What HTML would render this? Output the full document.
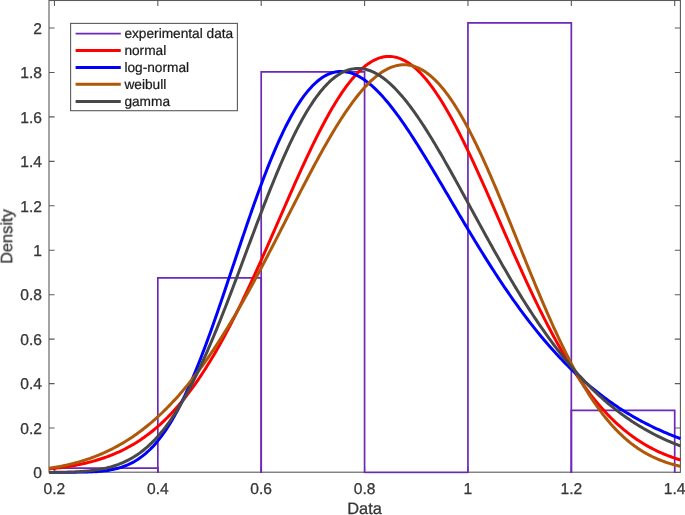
<!DOCTYPE html>
<html><head><meta charset="utf-8"><title>Density fit</title>
<style>
html,body{margin:0;padding:0;background:#fff;}
body{width:685px;height:515px;overflow:hidden;}
svg{display:block;}
text{font-family:"Liberation Sans",sans-serif;fill:#363636;stroke:#363636;stroke-width:0.3px;text-rendering:geometricPrecision;}
.tk{font-size:15.6px;}
.lb{font-size:16.4px;}
.lg{font-size:13.7px;fill:#1a1a1a;stroke:#1a1a1a;stroke-width:0.22px;}
</style></head><body>
<svg width="685" height="515" viewBox="0 0 685 515">
<rect x="0" y="0" width="685" height="515" fill="#ffffff"/>
<filter id="soft" x="-5%" y="-5%" width="110%" height="110%" color-interpolation-filters="sRGB"><feGaussianBlur stdDeviation="0.42"/></filter>
<g filter="url(#soft)">
<rect x="-20" y="-20" width="725" height="555" fill="#ffffff"/>
<defs><clipPath id="c"><rect x="48.4" y="0.5" width="632.6" height="473.2"/></clipPath></defs>
<g fill="none" stroke="#5a5a5a" stroke-width="1.1">
<rect x="49.0" y="0.5" width="631.4" height="471.7"/>
<path d="M54.45,472.2 V466.6 M54.45,0.5 V6.1"/>
<path d="M157.82,472.2 V466.6 M157.82,0.5 V6.1"/>
<path d="M261.20,472.2 V466.6 M261.20,0.5 V6.1"/>
<path d="M364.58,472.2 V466.6 M364.58,0.5 V6.1"/>
<path d="M467.95,472.2 V466.6 M467.95,0.5 V6.1"/>
<path d="M571.33,472.2 V466.6 M571.33,0.5 V6.1"/>
<path d="M674.70,472.2 V466.6 M674.70,0.5 V6.1"/>
<path d="M49.0,472.50 H54.6 M680.4,472.50 H674.8"/>
<path d="M49.0,428.05 H54.6 M680.4,428.05 H674.8"/>
<path d="M49.0,383.60 H54.6 M680.4,383.60 H674.8"/>
<path d="M49.0,339.15 H54.6 M680.4,339.15 H674.8"/>
<path d="M49.0,294.70 H54.6 M680.4,294.70 H674.8"/>
<path d="M49.0,250.25 H54.6 M680.4,250.25 H674.8"/>
<path d="M49.0,205.80 H54.6 M680.4,205.80 H674.8"/>
<path d="M49.0,161.35 H54.6 M680.4,161.35 H674.8"/>
<path d="M49.0,116.90 H54.6 M680.4,116.90 H674.8"/>
<path d="M49.0,72.45 H54.6 M680.4,72.45 H674.8"/>
<path d="M49.0,28.00 H54.6 M680.4,28.00 H674.8"/>
</g>
<g clip-path="url(#c)" fill="none" stroke="#6c28b6" stroke-width="1.7">
<path d="M54.45,473.00 L54.45,468.14 L157.82,468.14 L157.82,473.00"/>
<path d="M157.82,473.00 L157.82,277.81 L261.20,277.81 L261.20,473.00"/>
<path d="M261.20,473.00 L261.20,71.89 L364.58,71.89 L364.58,473.00"/>
<path d="M364.58,473.00 L364.58,472.50 L467.95,472.50 L467.95,473.00"/>
<path d="M467.95,473.00 L467.95,22.89 L571.33,22.89 L571.33,473.00"/>
<path d="M571.33,473.00 L571.33,410.40 L674.70,410.40 L674.70,473.00"/>
</g>
<g clip-path="url(#c)" fill="none" stroke-width="3" stroke-linejoin="round">
<path stroke="#ff0000" d="M49.00,468.95 L50.58,468.79 L52.16,468.62 L53.75,468.45 L55.33,468.27 L56.91,468.08 L58.49,467.88 L60.08,467.68 L61.66,467.47 L63.24,467.25 L64.82,467.02 L66.41,466.79 L67.99,466.54 L69.57,466.29 L71.15,466.02 L72.74,465.75 L74.32,465.47 L75.90,465.17 L77.48,464.87 L79.07,464.55 L80.65,464.23 L82.23,463.89 L83.81,463.54 L85.40,463.17 L86.98,462.80 L88.56,462.41 L90.14,462.01 L91.73,461.59 L93.31,461.16 L94.89,460.72 L96.47,460.26 L98.06,459.78 L99.64,459.29 L101.22,458.79 L102.80,458.26 L104.39,457.72 L105.97,457.17 L107.55,456.59 L109.13,456.00 L110.72,455.39 L112.30,454.76 L113.88,454.10 L115.46,453.43 L117.05,452.74 L118.63,452.03 L120.21,451.30 L121.79,450.55 L123.38,449.77 L124.96,448.97 L126.54,448.15 L128.12,447.30 L129.71,446.44 L131.29,445.54 L132.87,444.62 L134.45,443.68 L136.04,442.71 L137.62,441.71 L139.20,440.69 L140.78,439.64 L142.36,438.56 L143.95,437.46 L145.53,436.32 L147.11,435.16 L148.69,433.97 L150.28,432.74 L151.86,431.49 L153.44,430.21 L155.02,428.89 L156.61,427.55 L158.19,426.17 L159.77,424.76 L161.35,423.31 L162.94,421.84 L164.52,420.32 L166.10,418.78 L167.68,417.20 L169.27,415.59 L170.85,413.94 L172.43,412.26 L174.01,410.54 L175.60,408.78 L177.18,406.99 L178.76,405.16 L180.34,403.30 L181.93,401.39 L183.51,399.46 L185.09,397.48 L186.67,395.47 L188.26,393.41 L189.84,391.32 L191.42,389.20 L193.00,387.03 L194.59,384.83 L196.17,382.59 L197.75,380.31 L199.33,377.99 L200.92,375.63 L202.50,373.23 L204.08,370.80 L205.66,368.33 L207.25,365.82 L208.83,363.27 L210.41,360.69 L211.99,358.06 L213.58,355.40 L215.16,352.71 L216.74,349.97 L218.32,347.20 L219.91,344.39 L221.49,341.55 L223.07,338.67 L224.65,335.76 L226.24,332.81 L227.82,329.83 L229.40,326.81 L230.98,323.77 L232.56,320.68 L234.15,317.57 L235.73,314.43 L237.31,311.25 L238.89,308.05 L240.48,304.81 L242.06,301.55 L243.64,298.26 L245.22,294.95 L246.81,291.60 L248.39,288.24 L249.97,284.85 L251.55,281.43 L253.14,278.00 L254.72,274.54 L256.30,271.07 L257.88,267.57 L259.47,264.06 L261.05,260.53 L262.63,256.99 L264.21,253.43 L265.80,249.86 L267.38,246.27 L268.96,242.68 L270.54,239.08 L272.13,235.47 L273.71,231.85 L275.29,228.23 L276.87,224.61 L278.46,220.99 L280.04,217.36 L281.62,213.74 L283.20,210.11 L284.79,206.50 L286.37,202.89 L287.95,199.28 L289.53,195.69 L291.12,192.10 L292.70,188.53 L294.28,184.97 L295.86,181.43 L297.45,177.90 L299.03,174.39 L300.61,170.91 L302.19,167.44 L303.78,164.00 L305.36,160.59 L306.94,157.20 L308.52,153.84 L310.11,150.51 L311.69,147.21 L313.27,143.95 L314.85,140.73 L316.44,137.54 L318.02,134.39 L319.60,131.28 L321.18,128.21 L322.76,125.19 L324.35,122.22 L325.93,119.29 L327.51,116.41 L329.09,113.58 L330.68,110.80 L332.26,108.08 L333.84,105.41 L335.42,102.80 L337.01,100.25 L338.59,97.76 L340.17,95.32 L341.75,92.95 L343.34,90.65 L344.92,88.41 L346.50,86.24 L348.08,84.13 L349.67,82.09 L351.25,80.13 L352.83,78.23 L354.41,76.41 L356.00,74.66 L357.58,72.99 L359.16,71.39 L360.74,69.87 L362.33,68.43 L363.91,67.06 L365.49,65.78 L367.07,64.57 L368.66,63.45 L370.24,62.40 L371.82,61.44 L373.40,60.56 L374.99,59.77 L376.57,59.06 L378.15,58.43 L379.73,57.89 L381.32,57.43 L382.90,57.06 L384.48,56.77 L386.06,56.57 L387.65,56.46 L389.23,56.43 L390.81,56.49 L392.39,56.63 L393.98,56.86 L395.56,57.17 L397.14,57.57 L398.72,58.06 L400.31,58.62 L401.89,59.28 L403.47,60.02 L405.05,60.84 L406.64,61.74 L408.22,62.73 L409.80,63.80 L411.38,64.95 L412.96,66.18 L414.55,67.49 L416.13,68.89 L417.71,70.35 L419.29,71.90 L420.88,73.52 L422.46,75.22 L424.04,76.99 L425.62,78.84 L427.21,80.76 L428.79,82.75 L430.37,84.80 L431.95,86.93 L433.54,89.13 L435.12,91.39 L436.70,93.72 L438.28,96.10 L439.87,98.56 L441.45,101.07 L443.03,103.64 L444.61,106.27 L446.20,108.96 L447.78,111.70 L449.36,114.49 L450.94,117.34 L452.53,120.23 L454.11,123.18 L455.69,126.17 L457.27,129.20 L458.86,132.28 L460.44,135.41 L462.02,138.57 L463.60,141.77 L465.19,145.01 L466.77,148.28 L468.35,151.59 L469.93,154.92 L471.52,158.29 L473.10,161.69 L474.68,165.11 L476.26,168.56 L477.85,172.03 L479.43,175.53 L481.01,179.04 L482.59,182.57 L484.18,186.12 L485.76,189.69 L487.34,193.26 L488.92,196.85 L490.51,200.45 L492.09,204.06 L493.67,207.67 L495.25,211.29 L496.84,214.91 L498.42,218.54 L500.00,222.16 L501.58,225.79 L503.16,229.41 L504.75,233.03 L506.33,236.64 L507.91,240.25 L509.49,243.85 L511.08,247.44 L512.66,251.02 L514.24,254.58 L515.82,258.14 L517.41,261.68 L518.99,265.20 L520.57,268.71 L522.15,272.20 L523.74,275.67 L525.32,279.12 L526.90,282.54 L528.48,285.95 L530.07,289.33 L531.65,292.69 L533.23,296.02 L534.81,299.33 L536.40,302.61 L537.98,305.87 L539.56,309.09 L541.14,312.28 L542.73,315.45 L544.31,318.58 L545.89,321.69 L547.47,324.76 L549.06,327.80 L550.64,330.80 L552.22,333.77 L553.80,336.71 L555.39,339.61 L556.97,342.48 L558.55,345.31 L560.13,348.10 L561.72,350.86 L563.30,353.59 L564.88,356.27 L566.46,358.92 L568.05,361.53 L569.63,364.10 L571.21,366.64 L572.79,369.14 L574.38,371.59 L575.96,374.02 L577.54,376.40 L579.12,378.74 L580.71,381.05 L582.29,383.32 L583.87,385.55 L585.45,387.74 L587.04,389.89 L588.62,392.01 L590.20,394.08 L591.78,396.12 L593.36,398.12 L594.95,400.09 L596.53,402.02 L598.11,403.91 L599.69,405.76 L601.28,407.57 L602.86,409.35 L604.44,411.10 L606.02,412.81 L607.61,414.48 L609.19,416.11 L610.77,417.72 L612.35,419.28 L613.94,420.82 L615.52,422.32 L617.10,423.78 L618.68,425.22 L620.27,426.62 L621.85,427.99 L623.43,429.32 L625.01,430.63 L626.60,431.90 L628.18,433.14 L629.76,434.36 L631.34,435.54 L632.93,436.69 L634.51,437.82 L636.09,438.92 L637.67,439.98 L639.26,441.03 L640.84,442.04 L642.42,443.03 L644.00,443.99 L645.59,444.92 L647.17,445.83 L648.75,446.72 L650.33,447.58 L651.92,448.42 L653.50,449.23 L655.08,450.02 L656.66,450.79 L658.25,451.54 L659.83,452.27 L661.41,452.97 L662.99,453.65 L664.58,454.32 L666.16,454.96 L667.74,455.59 L669.32,456.19 L670.91,456.78 L672.49,457.35 L674.07,457.90 L675.65,458.43 L677.24,458.95 L678.82,459.45 L680.40,459.94"/>
<path stroke="#0000ff" d="M49.00,472.50 L50.58,472.50 L52.16,472.50 L53.75,472.49 L55.33,472.49 L56.91,472.49 L58.49,472.49 L60.08,472.49 L61.66,472.48 L63.24,472.48 L64.82,472.47 L66.41,472.47 L67.99,472.46 L69.57,472.45 L71.15,472.44 L72.74,472.42 L74.32,472.41 L75.90,472.39 L77.48,472.37 L79.07,472.34 L80.65,472.31 L82.23,472.28 L83.81,472.24 L85.40,472.19 L86.98,472.14 L88.56,472.08 L90.14,472.01 L91.73,471.93 L93.31,471.84 L94.89,471.75 L96.47,471.63 L98.06,471.51 L99.64,471.37 L101.22,471.22 L102.80,471.05 L104.39,470.86 L105.97,470.65 L107.55,470.42 L109.13,470.16 L110.72,469.88 L112.30,469.57 L113.88,469.24 L115.46,468.88 L117.05,468.48 L118.63,468.05 L120.21,467.58 L121.79,467.08 L123.38,466.54 L124.96,465.95 L126.54,465.32 L128.12,464.65 L129.71,463.92 L131.29,463.15 L132.87,462.32 L134.45,461.44 L136.04,460.50 L137.62,459.51 L139.20,458.45 L140.78,457.34 L142.36,456.15 L143.95,454.91 L145.53,453.59 L147.11,452.20 L148.69,450.75 L150.28,449.22 L151.86,447.61 L153.44,445.93 L155.02,444.17 L156.61,442.34 L158.19,440.42 L159.77,438.43 L161.35,436.35 L162.94,434.19 L164.52,431.94 L166.10,429.61 L167.68,427.20 L169.27,424.71 L170.85,422.12 L172.43,419.46 L174.01,416.71 L175.60,413.87 L177.18,410.95 L178.76,407.95 L180.34,404.86 L181.93,401.69 L183.51,398.44 L185.09,395.11 L186.67,391.70 L188.26,388.21 L189.84,384.65 L191.42,381.01 L193.00,377.29 L194.59,373.50 L196.17,369.65 L197.75,365.72 L199.33,361.74 L200.92,357.68 L202.50,353.57 L204.08,349.39 L205.66,345.16 L207.25,340.88 L208.83,336.54 L210.41,332.16 L211.99,327.73 L213.58,323.26 L215.16,318.75 L216.74,314.20 L218.32,309.62 L219.91,305.00 L221.49,300.36 L223.07,295.70 L224.65,291.02 L226.24,286.31 L227.82,281.60 L229.40,276.87 L230.98,272.13 L232.56,267.39 L234.15,262.65 L235.73,257.91 L237.31,253.17 L238.89,248.45 L240.48,243.73 L242.06,239.04 L243.64,234.36 L245.22,229.70 L246.81,225.06 L248.39,220.46 L249.97,215.88 L251.55,211.34 L253.14,206.83 L254.72,202.37 L256.30,197.95 L257.88,193.57 L259.47,189.24 L261.05,184.96 L262.63,180.73 L264.21,176.57 L265.80,172.45 L267.38,168.40 L268.96,164.42 L270.54,160.49 L272.13,156.64 L273.71,152.85 L275.29,149.14 L276.87,145.50 L278.46,141.93 L280.04,138.44 L281.62,135.03 L283.20,131.70 L284.79,128.45 L286.37,125.29 L287.95,122.20 L289.53,119.21 L291.12,116.30 L292.70,113.47 L294.28,110.74 L295.86,108.10 L297.45,105.54 L299.03,103.08 L300.61,100.70 L302.19,98.42 L303.78,96.24 L305.36,94.14 L306.94,92.14 L308.52,90.23 L310.11,88.42 L311.69,86.70 L313.27,85.07 L314.85,83.54 L316.44,82.10 L318.02,80.75 L319.60,79.50 L321.18,78.34 L322.76,77.27 L324.35,76.29 L325.93,75.41 L327.51,74.62 L329.09,73.91 L330.68,73.30 L332.26,72.78 L333.84,72.34 L335.42,71.99 L337.01,71.73 L338.59,71.56 L340.17,71.47 L341.75,71.46 L343.34,71.53 L344.92,71.69 L346.50,71.93 L348.08,72.25 L349.67,72.64 L351.25,73.12 L352.83,73.67 L354.41,74.29 L356.00,74.99 L357.58,75.76 L359.16,76.60 L360.74,77.51 L362.33,78.49 L363.91,79.54 L365.49,80.65 L367.07,81.83 L368.66,83.07 L370.24,84.37 L371.82,85.73 L373.40,87.15 L374.99,88.63 L376.57,90.16 L378.15,91.75 L379.73,93.39 L381.32,95.08 L382.90,96.83 L384.48,98.62 L386.06,100.46 L387.65,102.34 L389.23,104.27 L390.81,106.25 L392.39,108.26 L393.98,110.32 L395.56,112.41 L397.14,114.54 L398.72,116.71 L400.31,118.91 L401.89,121.15 L403.47,123.42 L405.05,125.72 L406.64,128.05 L408.22,130.40 L409.80,132.79 L411.38,135.20 L412.96,137.63 L414.55,140.09 L416.13,142.57 L417.71,145.07 L419.29,147.59 L420.88,150.13 L422.46,152.69 L424.04,155.26 L425.62,157.85 L427.21,160.45 L428.79,163.07 L430.37,165.70 L431.95,168.34 L433.54,170.98 L435.12,173.64 L436.70,176.31 L438.28,178.98 L439.87,181.65 L441.45,184.34 L443.03,187.02 L444.61,189.71 L446.20,192.41 L447.78,195.10 L449.36,197.80 L450.94,200.49 L452.53,203.19 L454.11,205.88 L455.69,208.57 L457.27,211.26 L458.86,213.94 L460.44,216.62 L462.02,219.29 L463.60,221.96 L465.19,224.62 L466.77,227.27 L468.35,229.92 L469.93,232.56 L471.52,235.19 L473.10,237.81 L474.68,240.42 L476.26,243.02 L477.85,245.61 L479.43,248.19 L481.01,250.75 L482.59,253.31 L484.18,255.85 L485.76,258.37 L487.34,260.89 L488.92,263.39 L490.51,265.87 L492.09,268.35 L493.67,270.80 L495.25,273.24 L496.84,275.67 L498.42,278.08 L500.00,280.47 L501.58,282.85 L503.16,285.21 L504.75,287.56 L506.33,289.88 L507.91,292.19 L509.49,294.49 L511.08,296.76 L512.66,299.02 L514.24,301.25 L515.82,303.47 L517.41,305.68 L518.99,307.86 L520.57,310.02 L522.15,312.17 L523.74,314.30 L525.32,316.40 L526.90,318.49 L528.48,320.56 L530.07,322.61 L531.65,324.65 L533.23,326.66 L534.81,328.65 L536.40,330.62 L537.98,332.58 L539.56,334.51 L541.14,336.43 L542.73,338.32 L544.31,340.20 L545.89,342.06 L547.47,343.89 L549.06,345.71 L550.64,347.51 L552.22,349.29 L553.80,351.05 L555.39,352.79 L556.97,354.51 L558.55,356.21 L560.13,357.90 L561.72,359.56 L563.30,361.21 L564.88,362.83 L566.46,364.44 L568.05,366.03 L569.63,367.60 L571.21,369.15 L572.79,370.68 L574.38,372.20 L575.96,373.69 L577.54,375.17 L579.12,376.63 L580.71,378.07 L582.29,379.50 L583.87,380.91 L585.45,382.29 L587.04,383.67 L588.62,385.02 L590.20,386.36 L591.78,387.68 L593.36,388.98 L594.95,390.27 L596.53,391.54 L598.11,392.79 L599.69,394.02 L601.28,395.24 L602.86,396.45 L604.44,397.64 L606.02,398.81 L607.61,399.96 L609.19,401.10 L610.77,402.23 L612.35,403.34 L613.94,404.43 L615.52,405.51 L617.10,406.58 L618.68,407.63 L620.27,408.66 L621.85,409.68 L623.43,410.69 L625.01,411.68 L626.60,412.66 L628.18,413.62 L629.76,414.57 L631.34,415.51 L632.93,416.43 L634.51,417.34 L636.09,418.24 L637.67,419.12 L639.26,419.99 L640.84,420.85 L642.42,421.70 L644.00,422.53 L645.59,423.35 L647.17,424.16 L648.75,424.96 L650.33,425.74 L651.92,426.52 L653.50,427.28 L655.08,428.03 L656.66,428.77 L658.25,429.49 L659.83,430.21 L661.41,430.92 L662.99,431.61 L664.58,432.30 L666.16,432.97 L667.74,433.63 L669.32,434.29 L670.91,434.93 L672.49,435.56 L674.07,436.19 L675.65,436.80 L677.24,437.41 L678.82,438.00 L680.40,438.59"/>
<path stroke="#b0580a" d="M49.00,468.34 L50.58,468.10 L52.16,467.85 L53.75,467.59 L55.33,467.32 L56.91,467.04 L58.49,466.75 L60.08,466.44 L61.66,466.13 L63.24,465.81 L64.82,465.47 L66.41,465.12 L67.99,464.76 L69.57,464.39 L71.15,464.01 L72.74,463.61 L74.32,463.20 L75.90,462.78 L77.48,462.34 L79.07,461.89 L80.65,461.42 L82.23,460.95 L83.81,460.45 L85.40,459.94 L86.98,459.42 L88.56,458.88 L90.14,458.33 L91.73,457.76 L93.31,457.17 L94.89,456.57 L96.47,455.95 L98.06,455.32 L99.64,454.67 L101.22,454.00 L102.80,453.31 L104.39,452.61 L105.97,451.88 L107.55,451.14 L109.13,450.39 L110.72,449.61 L112.30,448.81 L113.88,448.00 L115.46,447.16 L117.05,446.31 L118.63,445.43 L120.21,444.54 L121.79,443.62 L123.38,442.69 L124.96,441.73 L126.54,440.75 L128.12,439.75 L129.71,438.73 L131.29,437.69 L132.87,436.63 L134.45,435.54 L136.04,434.43 L137.62,433.30 L139.20,432.15 L140.78,430.97 L142.36,429.77 L143.95,428.55 L145.53,427.30 L147.11,426.03 L148.69,424.74 L150.28,423.42 L151.86,422.07 L153.44,420.71 L155.02,419.32 L156.61,417.90 L158.19,416.46 L159.77,414.99 L161.35,413.50 L162.94,411.98 L164.52,410.44 L166.10,408.87 L167.68,407.27 L169.27,405.65 L170.85,404.01 L172.43,402.33 L174.01,400.63 L175.60,398.91 L177.18,397.16 L178.76,395.38 L180.34,393.58 L181.93,391.74 L183.51,389.89 L185.09,388.00 L186.67,386.09 L188.26,384.15 L189.84,382.19 L191.42,380.20 L193.00,378.18 L194.59,376.14 L196.17,374.07 L197.75,371.97 L199.33,369.85 L200.92,367.69 L202.50,365.52 L204.08,363.31 L205.66,361.08 L207.25,358.83 L208.83,356.55 L210.41,354.24 L211.99,351.91 L213.58,349.55 L215.16,347.16 L216.74,344.75 L218.32,342.32 L219.91,339.86 L221.49,337.38 L223.07,334.87 L224.65,332.34 L226.24,329.78 L227.82,327.20 L229.40,324.60 L230.98,321.97 L232.56,319.32 L234.15,316.65 L235.73,313.96 L237.31,311.24 L238.89,308.51 L240.48,305.75 L242.06,302.98 L243.64,300.18 L245.22,297.36 L246.81,294.53 L248.39,291.68 L249.97,288.80 L251.55,285.92 L253.14,283.01 L254.72,280.09 L256.30,277.15 L257.88,274.20 L259.47,271.23 L261.05,268.25 L262.63,265.26 L264.21,262.25 L265.80,259.23 L267.38,256.20 L268.96,253.16 L270.54,250.11 L272.13,247.05 L273.71,243.98 L275.29,240.91 L276.87,237.83 L278.46,234.74 L280.04,231.65 L281.62,228.55 L283.20,225.45 L284.79,222.35 L286.37,219.25 L287.95,216.14 L289.53,213.04 L291.12,209.94 L292.70,206.84 L294.28,203.74 L295.86,200.65 L297.45,197.57 L299.03,194.49 L300.61,191.42 L302.19,188.35 L303.78,185.30 L305.36,182.26 L306.94,179.23 L308.52,176.21 L310.11,173.21 L311.69,170.22 L313.27,167.25 L314.85,164.30 L316.44,161.36 L318.02,158.45 L319.60,155.55 L321.18,152.68 L322.76,149.84 L324.35,147.02 L325.93,144.22 L327.51,141.45 L329.09,138.71 L330.68,136.00 L332.26,133.33 L333.84,130.68 L335.42,128.07 L337.01,125.49 L338.59,122.95 L340.17,120.45 L341.75,117.98 L343.34,115.56 L344.92,113.18 L346.50,110.84 L348.08,108.54 L349.67,106.29 L351.25,104.08 L352.83,101.93 L354.41,99.82 L356.00,97.76 L357.58,95.75 L359.16,93.80 L360.74,91.90 L362.33,90.05 L363.91,88.26 L365.49,86.53 L367.07,84.86 L368.66,83.24 L370.24,81.69 L371.82,80.20 L373.40,78.77 L374.99,77.40 L376.57,76.10 L378.15,74.86 L379.73,73.70 L381.32,72.60 L382.90,71.56 L384.48,70.60 L386.06,69.71 L387.65,68.89 L389.23,68.14 L390.81,67.46 L392.39,66.86 L393.98,66.33 L395.56,65.88 L397.14,65.50 L398.72,65.20 L400.31,64.97 L401.89,64.83 L403.47,64.76 L405.05,64.76 L406.64,64.85 L408.22,65.02 L409.80,65.26 L411.38,65.59 L412.96,65.99 L414.55,66.48 L416.13,67.04 L417.71,67.69 L419.29,68.41 L420.88,69.22 L422.46,70.10 L424.04,71.07 L425.62,72.11 L427.21,73.24 L428.79,74.44 L430.37,75.73 L431.95,77.09 L433.54,78.54 L435.12,80.06 L436.70,81.65 L438.28,83.33 L439.87,85.08 L441.45,86.91 L443.03,88.81 L444.61,90.79 L446.20,92.84 L447.78,94.97 L449.36,97.16 L450.94,99.43 L452.53,101.77 L454.11,104.18 L455.69,106.65 L457.27,109.19 L458.86,111.80 L460.44,114.47 L462.02,117.21 L463.60,120.01 L465.19,122.87 L466.77,125.79 L468.35,128.76 L469.93,131.79 L471.52,134.88 L473.10,138.02 L474.68,141.22 L476.26,144.46 L477.85,147.75 L479.43,151.09 L481.01,154.48 L482.59,157.91 L484.18,161.38 L485.76,164.89 L487.34,168.44 L488.92,172.03 L490.51,175.65 L492.09,179.31 L493.67,182.99 L495.25,186.71 L496.84,190.45 L498.42,194.22 L500.00,198.01 L501.58,201.82 L503.16,205.65 L504.75,209.50 L506.33,213.37 L507.91,217.25 L509.49,221.14 L511.08,225.04 L512.66,228.95 L514.24,232.87 L515.82,236.79 L517.41,240.71 L518.99,244.64 L520.57,248.56 L522.15,252.48 L523.74,256.39 L525.32,260.30 L526.90,264.20 L528.48,268.08 L530.07,271.96 L531.65,275.82 L533.23,279.66 L534.81,283.49 L536.40,287.30 L537.98,291.09 L539.56,294.85 L541.14,298.60 L542.73,302.31 L544.31,306.00 L545.89,309.67 L547.47,313.30 L549.06,316.90 L550.64,320.47 L552.22,324.01 L553.80,327.51 L555.39,330.97 L556.97,334.40 L558.55,337.79 L560.13,341.14 L561.72,344.45 L563.30,347.72 L564.88,350.95 L566.46,354.13 L568.05,357.27 L569.63,360.37 L571.21,363.42 L572.79,366.42 L574.38,369.38 L575.96,372.29 L577.54,375.16 L579.12,377.97 L580.71,380.74 L582.29,383.46 L583.87,386.13 L585.45,388.75 L587.04,391.32 L588.62,393.84 L590.20,396.32 L591.78,398.74 L593.36,401.11 L594.95,403.43 L596.53,405.70 L598.11,407.92 L599.69,410.09 L601.28,412.22 L602.86,414.29 L604.44,416.31 L606.02,418.29 L607.61,420.21 L609.19,422.09 L610.77,423.92 L612.35,425.70 L613.94,427.43 L615.52,429.12 L617.10,430.76 L618.68,432.36 L620.27,433.91 L621.85,435.42 L623.43,436.88 L625.01,438.30 L626.60,439.68 L628.18,441.01 L629.76,442.31 L631.34,443.56 L632.93,444.77 L634.51,445.94 L636.09,447.08 L637.67,448.18 L639.26,449.24 L640.84,450.26 L642.42,451.25 L644.00,452.20 L645.59,453.12 L647.17,454.01 L648.75,454.86 L650.33,455.68 L651.92,456.47 L653.50,457.23 L655.08,457.96 L656.66,458.67 L658.25,459.34 L659.83,459.99 L661.41,460.61 L662.99,461.21 L664.58,461.78 L666.16,462.33 L667.74,462.85 L669.32,463.35 L670.91,463.83 L672.49,464.29 L674.07,464.73 L675.65,465.15 L677.24,465.55 L678.82,465.93 L680.40,466.29"/>
<path stroke="#484848" d="M49.00,472.43 L50.58,472.42 L52.16,472.41 L53.75,472.39 L55.33,472.37 L56.91,472.35 L58.49,472.33 L60.08,472.30 L61.66,472.28 L63.24,472.24 L64.82,472.21 L66.41,472.17 L67.99,472.12 L69.57,472.07 L71.15,472.01 L72.74,471.95 L74.32,471.88 L75.90,471.81 L77.48,471.73 L79.07,471.63 L80.65,471.53 L82.23,471.42 L83.81,471.30 L85.40,471.17 L86.98,471.03 L88.56,470.88 L90.14,470.71 L91.73,470.53 L93.31,470.33 L94.89,470.11 L96.47,469.88 L98.06,469.64 L99.64,469.37 L101.22,469.09 L102.80,468.78 L104.39,468.45 L105.97,468.10 L107.55,467.72 L109.13,467.32 L110.72,466.90 L112.30,466.44 L113.88,465.96 L115.46,465.45 L117.05,464.90 L118.63,464.33 L120.21,463.72 L121.79,463.07 L123.38,462.40 L124.96,461.68 L126.54,460.92 L128.12,460.13 L129.71,459.29 L131.29,458.42 L132.87,457.50 L134.45,456.53 L136.04,455.52 L137.62,454.47 L139.20,453.36 L140.78,452.21 L142.36,451.00 L143.95,449.75 L145.53,448.44 L147.11,447.08 L148.69,445.67 L150.28,444.20 L151.86,442.68 L153.44,441.09 L155.02,439.46 L156.61,437.76 L158.19,436.00 L159.77,434.19 L161.35,432.31 L162.94,430.37 L164.52,428.38 L166.10,426.32 L167.68,424.20 L169.27,422.01 L170.85,419.77 L172.43,417.46 L174.01,415.09 L175.60,412.65 L177.18,410.15 L178.76,407.59 L180.34,404.97 L181.93,402.29 L183.51,399.54 L185.09,396.73 L186.67,393.86 L188.26,390.93 L189.84,387.94 L191.42,384.89 L193.00,381.78 L194.59,378.61 L196.17,375.39 L197.75,372.11 L199.33,368.77 L200.92,365.39 L202.50,361.94 L204.08,358.45 L205.66,354.91 L207.25,351.31 L208.83,347.67 L210.41,343.99 L211.99,340.25 L213.58,336.48 L215.16,332.66 L216.74,328.81 L218.32,324.91 L219.91,320.98 L221.49,317.02 L223.07,313.02 L224.65,308.99 L226.24,304.94 L227.82,300.86 L229.40,296.75 L230.98,292.62 L232.56,288.47 L234.15,284.30 L235.73,280.12 L237.31,275.92 L238.89,271.71 L240.48,267.49 L242.06,263.26 L243.64,259.03 L245.22,254.80 L246.81,250.57 L248.39,246.34 L249.97,242.11 L251.55,237.89 L253.14,233.68 L254.72,229.48 L256.30,225.29 L257.88,221.12 L259.47,216.97 L261.05,212.84 L262.63,208.73 L264.21,204.65 L265.80,200.60 L267.38,196.57 L268.96,192.58 L270.54,188.62 L272.13,184.69 L273.71,180.81 L275.29,176.96 L276.87,173.16 L278.46,169.40 L280.04,165.69 L281.62,162.02 L283.20,158.41 L284.79,154.85 L286.37,151.34 L287.95,147.88 L289.53,144.49 L291.12,141.15 L292.70,137.88 L294.28,134.66 L295.86,131.51 L297.45,128.43 L299.03,125.41 L300.61,122.46 L302.19,119.58 L303.78,116.77 L305.36,114.03 L306.94,111.36 L308.52,108.77 L310.11,106.25 L311.69,103.81 L313.27,101.45 L314.85,99.16 L316.44,96.95 L318.02,94.82 L319.60,92.77 L321.18,90.81 L322.76,88.92 L324.35,87.11 L325.93,85.39 L327.51,83.75 L329.09,82.20 L330.68,80.72 L332.26,79.33 L333.84,78.03 L335.42,76.80 L337.01,75.66 L338.59,74.61 L340.17,73.64 L341.75,72.75 L343.34,71.95 L344.92,71.23 L346.50,70.59 L348.08,70.04 L349.67,69.57 L351.25,69.18 L352.83,68.88 L354.41,68.65 L356.00,68.51 L357.58,68.44 L359.16,68.46 L360.74,68.56 L362.33,68.73 L363.91,68.98 L365.49,69.31 L367.07,69.72 L368.66,70.20 L370.24,70.76 L371.82,71.38 L373.40,72.09 L374.99,72.86 L376.57,73.71 L378.15,74.62 L379.73,75.61 L381.32,76.66 L382.90,77.78 L384.48,78.96 L386.06,80.21 L387.65,81.53 L389.23,82.90 L390.81,84.34 L392.39,85.83 L393.98,87.39 L395.56,89.00 L397.14,90.67 L398.72,92.40 L400.31,94.17 L401.89,96.01 L403.47,97.89 L405.05,99.82 L406.64,101.80 L408.22,103.83 L409.80,105.90 L411.38,108.02 L412.96,110.19 L414.55,112.39 L416.13,114.64 L417.71,116.93 L419.29,119.25 L420.88,121.61 L422.46,124.01 L424.04,126.44 L425.62,128.91 L427.21,131.40 L428.79,133.93 L430.37,136.49 L431.95,139.07 L433.54,141.68 L435.12,144.32 L436.70,146.98 L438.28,149.67 L439.87,152.38 L441.45,155.10 L443.03,157.85 L444.61,160.62 L446.20,163.40 L447.78,166.20 L449.36,169.01 L450.94,171.84 L452.53,174.68 L454.11,177.53 L455.69,180.39 L457.27,183.26 L458.86,186.14 L460.44,189.03 L462.02,191.92 L463.60,194.82 L465.19,197.72 L466.77,200.62 L468.35,203.53 L469.93,206.44 L471.52,209.35 L473.10,212.26 L474.68,215.17 L476.26,218.07 L477.85,220.97 L479.43,223.87 L481.01,226.77 L482.59,229.65 L484.18,232.54 L485.76,235.41 L487.34,238.28 L488.92,241.14 L490.51,243.99 L492.09,246.83 L493.67,249.66 L495.25,252.48 L496.84,255.28 L498.42,258.08 L500.00,260.86 L501.58,263.63 L503.16,266.38 L504.75,269.12 L506.33,271.85 L507.91,274.56 L509.49,277.25 L511.08,279.93 L512.66,282.59 L514.24,285.23 L515.82,287.86 L517.41,290.46 L518.99,293.05 L520.57,295.62 L522.15,298.17 L523.74,300.70 L525.32,303.21 L526.90,305.70 L528.48,308.17 L530.07,310.62 L531.65,313.05 L533.23,315.46 L534.81,317.84 L536.40,320.20 L537.98,322.55 L539.56,324.87 L541.14,327.17 L542.73,329.44 L544.31,331.69 L545.89,333.92 L547.47,336.13 L549.06,338.32 L550.64,340.48 L552.22,342.62 L553.80,344.73 L555.39,346.83 L556.97,348.90 L558.55,350.94 L560.13,352.96 L561.72,354.96 L563.30,356.94 L564.88,358.89 L566.46,360.82 L568.05,362.73 L569.63,364.61 L571.21,366.47 L572.79,368.31 L574.38,370.12 L575.96,371.91 L577.54,373.68 L579.12,375.42 L580.71,377.14 L582.29,378.84 L583.87,380.52 L585.45,382.17 L587.04,383.80 L588.62,385.41 L590.20,387.00 L591.78,388.56 L593.36,390.10 L594.95,391.62 L596.53,393.12 L598.11,394.60 L599.69,396.05 L601.28,397.48 L602.86,398.90 L604.44,400.29 L606.02,401.66 L607.61,403.01 L609.19,404.34 L610.77,405.65 L612.35,406.93 L613.94,408.20 L615.52,409.45 L617.10,410.68 L618.68,411.89 L620.27,413.08 L621.85,414.25 L623.43,415.40 L625.01,416.54 L626.60,417.65 L628.18,418.75 L629.76,419.83 L631.34,420.89 L632.93,421.93 L634.51,422.95 L636.09,423.96 L637.67,424.95 L639.26,425.93 L640.84,426.88 L642.42,427.82 L644.00,428.75 L645.59,429.65 L647.17,430.55 L648.75,431.42 L650.33,432.28 L651.92,433.13 L653.50,433.96 L655.08,434.77 L656.66,435.57 L658.25,436.36 L659.83,437.13 L661.41,437.88 L662.99,438.63 L664.58,439.35 L666.16,440.07 L667.74,440.77 L669.32,441.46 L670.91,442.14 L672.49,442.80 L674.07,443.45 L675.65,444.09 L677.24,444.71 L678.82,445.33 L680.40,445.93"/>
</g>
<g style="filter:grayscale(1)">
<text class="tk" x="54.45" y="494.3" text-anchor="middle">0.2</text>
<text class="tk" x="157.82" y="494.3" text-anchor="middle">0.4</text>
<text class="tk" x="261.20" y="494.3" text-anchor="middle">0.6</text>
<text class="tk" x="364.58" y="494.3" text-anchor="middle">0.8</text>
<text class="tk" x="467.95" y="494.3" text-anchor="middle">1</text>
<text class="tk" x="571.33" y="494.3" text-anchor="middle">1.2</text>
<text class="tk" x="674.70" y="494.3" text-anchor="middle">1.4</text>
<text class="tk" x="42.0" y="478.20" text-anchor="end">0</text>
<text class="tk" x="42.0" y="433.75" text-anchor="end">0.2</text>
<text class="tk" x="42.0" y="389.30" text-anchor="end">0.4</text>
<text class="tk" x="42.0" y="344.85" text-anchor="end">0.6</text>
<text class="tk" x="42.0" y="300.40" text-anchor="end">0.8</text>
<text class="tk" x="42.0" y="255.95" text-anchor="end">1</text>
<text class="tk" x="42.0" y="211.50" text-anchor="end">1.2</text>
<text class="tk" x="42.0" y="167.05" text-anchor="end">1.4</text>
<text class="tk" x="42.0" y="122.60" text-anchor="end">1.6</text>
<text class="tk" x="42.0" y="78.15" text-anchor="end">1.8</text>
<text class="tk" x="42.0" y="33.70" text-anchor="end">2</text>
<text class="lb" x="364.5" y="513.7" text-anchor="middle">Data</text>
<text class="lb" transform="translate(12.2,236.6) rotate(-90)" text-anchor="middle">Density</text>
</g>
<rect x="70.6" y="23.4" width="166.8" height="87.30000000000001" fill="#fff" stroke="#5a5a5a" stroke-width="1.1"/>
<path d="M75.6,33.6 H120.8" stroke="#6c28b6" stroke-width="1.7" fill="none"/>
<path d="M75.6,50.5 H120.8" stroke="#ff0000" stroke-width="3" fill="none"/>
<path d="M75.6,67.4 H120.8" stroke="#0000ff" stroke-width="3" fill="none"/>
<path d="M75.6,84.3 H120.8" stroke="#b0580a" stroke-width="3" fill="none"/>
<path d="M75.6,101.6 H120.8" stroke="#484848" stroke-width="3" fill="none"/>
<g style="filter:grayscale(1)">
<text class="lg" x="124.4" y="38.20">experimental data</text>
<text class="lg" x="124.4" y="55.10">normal</text>
<text class="lg" x="124.4" y="72.00">log-normal</text>
<text class="lg" x="124.4" y="88.90">weibull</text>
<text class="lg" x="124.4" y="106.20">gamma</text>
</g>
</g>
</svg>
</body></html>
